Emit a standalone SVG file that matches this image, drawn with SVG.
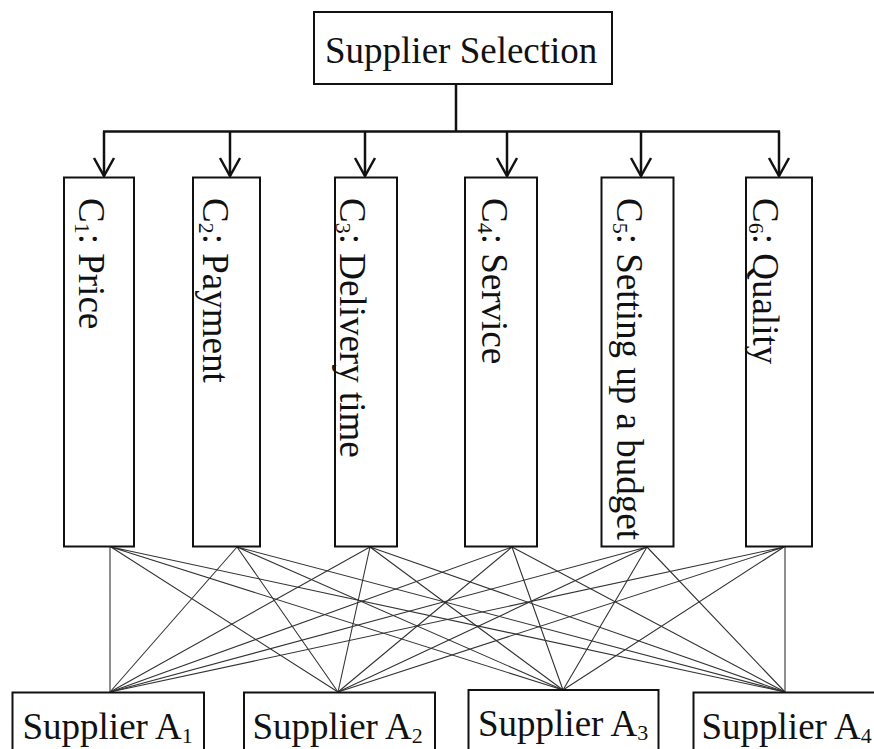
<svg xmlns="http://www.w3.org/2000/svg" width="874" height="749" viewBox="0 0 874 749">
  <style>
    .box { fill: #ffffff; stroke: #111111; stroke-width: 2; }
    .lbl { font-family: "Liberation Serif", "Times New Roman", serif; font-size: 37px; fill: #111111; }
    .sub { font-size: 22px; }
    .trunk { fill: none; stroke: #111111; stroke-width: 2.5; }
    .fan { fill: none; stroke: #333333; stroke-width: 1.1; }
  </style>
  <defs>
    <!-- open V arrowhead, tip at the end of the line -->
    <marker id="arrow" markerUnits="userSpaceOnUse" viewBox="0 0 22 24" refX="20" refY="12" markerWidth="22" markerHeight="24" orient="auto">
      <path d="M2,2 L20,12 L2,22" fill="none" stroke="#111111" stroke-width="2.5"/>
    </marker>
  </defs>
  <rect width="874" height="749" fill="#ffffff"/>

  <!-- hierarchy trunk and arrows to criteria -->
  <g id="connectors">
    <path class="trunk" d="M456,84 V131.5 M103,131.5 H780"/>
    <g class="trunk" marker-end="url(#arrow)">
      <path d="M104,131.5 V176"/>
      <path d="M230,131.5 V176"/>
      <path d="M365,131.5 V176"/>
      <path d="M507,131.5 V176"/>
      <path d="M641,131.5 V176"/>
      <path d="M779,131.5 V176"/>
    </g>
    <!-- every criterion linked to every supplier -->
    <g class="fan">
      <path d="M110,547 L110,692 M111,547 L338,692 M111,547 L563,690 M111,547 L785,692"/>
      <path d="M237,547 L110,692 M237,547 L338,692 M237,547 L563,690 M237,547 L785,692"/>
      <path d="M370,547 L110,692 M370,547 L338,692 M370,547 L563,690 M370,547 L785,692"/>
      <path d="M512,547 L110,692 M512,547 L338,692 M512,547 L563,690 M512,547 L785,692"/>
      <path d="M647,547 L110,692 M647,547 L338,692 M647,547 L563,690 M647,547 L785,692"/>
      <path d="M784,547 L110,692 M784,547 L338,692 M784,547 L563,690 M785,547 L785,692"/>
    </g>
  </g>

  <!-- goal -->
  <g id="goal">
    <rect class="box" x="314" y="12" width="298" height="72"/>
    <text class="lbl" x="325" y="63">Supplier Selection</text>
  </g>

  <!-- criteria -->
  <g id="c1">
    <rect class="box" x="64" y="177.5" width="70" height="369"/>
    <text class="lbl" transform="translate(79,198) rotate(90)">C<tspan class="sub" dy="4">1</tspan><tspan dy="-4">: Price</tspan></text>
  </g>
  <g id="c2">
    <rect class="box" x="193" y="177.5" width="67" height="369"/>
    <text class="lbl" transform="translate(203,198) rotate(90)">C<tspan class="sub" dy="4">2</tspan><tspan dy="-4">: Payment</tspan></text>
  </g>
  <g id="c3">
    <rect class="box" x="335" y="177.5" width="62" height="369"/>
    <text class="lbl" transform="translate(340,198) rotate(90)">C<tspan class="sub" dy="4">3</tspan><tspan dy="-4">: Delivery time</tspan></text>
  </g>
  <g id="c4">
    <rect class="box" x="465" y="177.5" width="72" height="369"/>
    <text class="lbl" transform="translate(482,198) rotate(90)">C<tspan class="sub" dy="4">4</tspan><tspan dy="-4">: Service</tspan></text>
  </g>
  <g id="c5">
    <rect class="box" x="601.5" y="177.5" width="72" height="369"/>
    <text class="lbl" transform="translate(617,198) rotate(90)">C<tspan class="sub" dy="4">5</tspan><tspan dy="-4">: Setting up a budget</tspan></text>
  </g>
  <g id="c6">
    <rect class="box" x="746" y="177.5" width="66" height="369"/>
    <text class="lbl" transform="translate(753,198) rotate(90)">C<tspan class="sub" dy="4">6</tspan><tspan dy="-4">: Quality</tspan></text>
  </g>

  <!-- alternatives -->
  <g id="a1">
    <rect class="box" x="12.5" y="692.5" width="191.5" height="70"/>
    <text class="lbl" x="22.5" y="739">Supplier A<tspan class="sub" dy="4">1</tspan></text>
  </g>
  <g id="a2">
    <rect class="box" x="244" y="692.5" width="191" height="70"/>
    <text class="lbl" x="252.5" y="739">Supplier A<tspan class="sub" dy="4">2</tspan></text>
  </g>
  <g id="a3">
    <rect class="box" x="468.5" y="690" width="190" height="70"/>
    <text class="lbl" x="478" y="736">Supplier A<tspan class="sub" dy="4">3</tspan></text>
  </g>
  <g id="a4">
    <rect class="box" x="693.5" y="692.5" width="200" height="70"/>
    <text class="lbl" x="701.5" y="739">Supplier A<tspan class="sub" dy="4">4</tspan></text>
  </g>
</svg>
